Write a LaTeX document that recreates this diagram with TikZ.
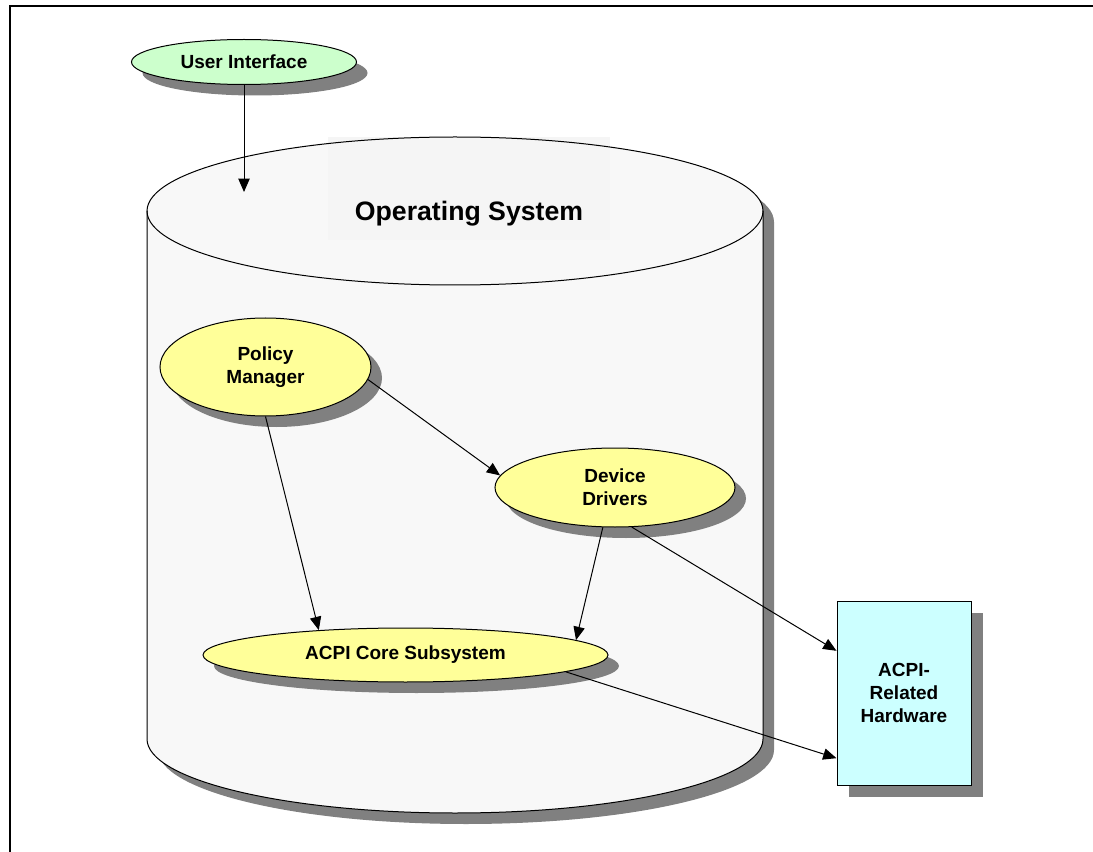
\documentclass[tikz,border=0pt]{standalone}
\usepackage{fontspec}
\setmainfont{Liberation Sans}
\usetikzlibrary{shapes.geometric,shadows,arrows.meta}
\definecolor{uigreen}{HTML}{CCFFCC}
\definecolor{nodeyellow}{HTML}{FFFF99}
\definecolor{hwcyan}{HTML}{CCFFFF}
\definecolor{osgray}{HTML}{F8F8F8}
\definecolor{labelgray}{HTML}{F5F5F5}
\begin{document}
\begin{tikzpicture}[x=0.75pt, y=-0.75pt,
        every node/.style={font=\fontsize{14.25pt}{17.5pt}\selectfont\bfseries, align=center, inner sep=0pt},
        boxshadow/.style={drop shadow={shadow xshift=#1, shadow yshift=-#1, fill=black!50, opacity=1}},
        bubble/.style={ellipse, draw, line width=0.75pt, fill=#1, boxshadow=8.25pt},
        hwbox/.style={rectangle, draw, line width=0.75pt, fill=hwcyan, boxshadow=9pt},
        link/.style={line width=0.75pt, -{Triangle[length=10pt, width=8.5pt]}}]
        \useasboundingbox (0,0) rectangle (1093,852);
        \draw[line width=1.5pt] (10,852) -- (10,6) -- (1093,6);

        \fill[black!50, shift={(11,11)}] (147,211) -- (147,739) arc[start angle=180, end angle=0, x radius=308, y radius=74]
            -- (763,211) arc[start angle=0, end angle=-180, x radius=308, y radius=74] -- cycle;
        \fill[osgray] (147,211) -- (147,739) arc[start angle=180, end angle=0, x radius=308, y radius=74]
            -- (763,211) arc[start angle=0, end angle=-180, x radius=308, y radius=74] -- cycle;
        \draw[line width=0.75pt] (147,211) -- (147,739) arc[start angle=180, end angle=0, x radius=308, y radius=74] -- (763,211);
        \node[fill=labelgray, minimum width=211.5pt, text height=63pt, text depth=14.25pt, anchor=base,
            font=\fontsize{20pt}{24pt}\selectfont\bfseries] (oslabel) at (469,221) {Operating System};
        \draw[line width=0.75pt] (455,211) ellipse[x radius=308, y radius=74];

        \node[bubble=uigreen, minimum width=168.75pt, minimum height=33.75pt] (ui) at (244,62) {User Interface};
        \node[bubble=nodeyellow, minimum width=158.25pt, minimum height=73.5pt] (policy) at (265.5,367) {Policy\\Manager};
        \node[bubble=nodeyellow, minimum width=180pt, minimum height=59.25pt] (drivers) at (615,487.5) {Device\\Drivers};
        \node[bubble=nodeyellow, minimum width=303.75pt, minimum height=40.5pt] (core) at (405.5,655) {ACPI Core Subsystem};
        \node[hwbox, minimum width=100.5pt, minimum height=138pt] (hw) at (904,693) {ACPI-\\Related\\Hardware};

        \coordinate (osentry) at (244,192);
        \draw[link] (ui.south) -- (osentry);
        \draw[link] (policy.-7) -- (drivers.174);
        \draw[link] (policy.south) -- (core.164);
        \draw[link] (drivers.-107) -- (core.5);
        \draw[link] (drivers.-67) -- (hw.148);
        \draw[link] (core.-6) -- (hw.224);
    \end{tikzpicture}
\end{document}
